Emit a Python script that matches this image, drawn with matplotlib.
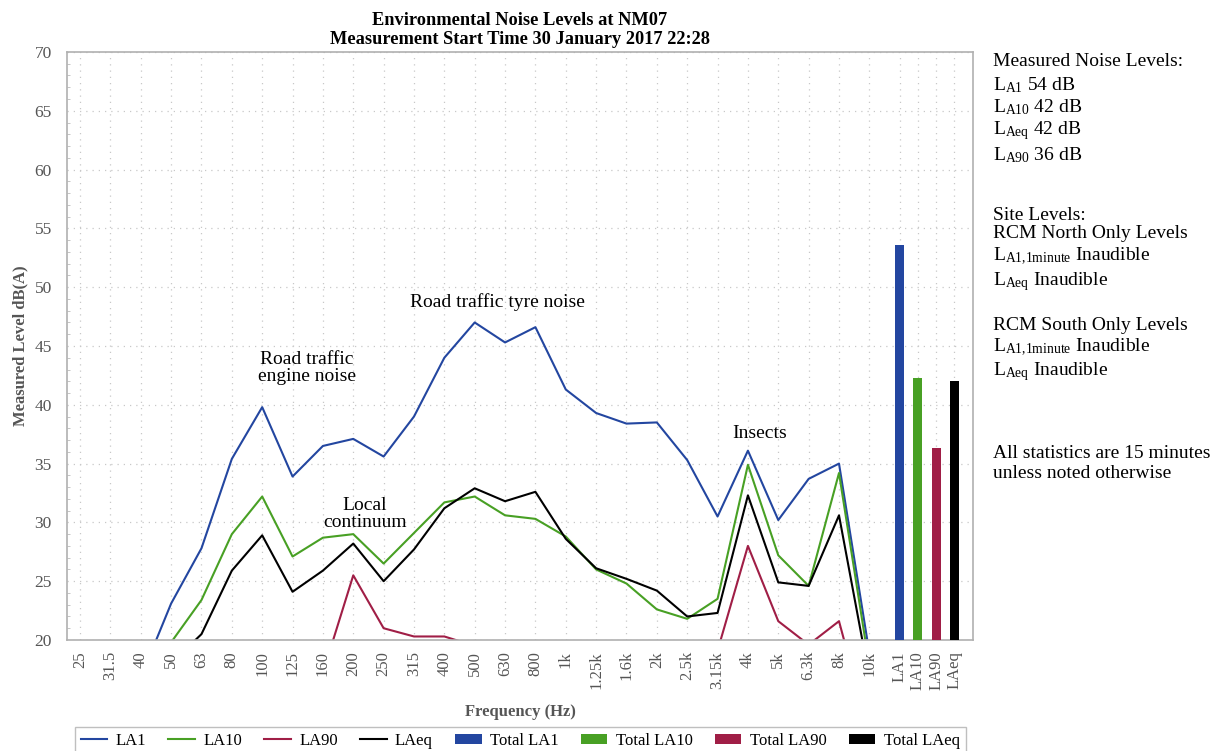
import numpy as np
import matplotlib
matplotlib.use("Agg")
import matplotlib.pyplot as plt
from matplotlib.ticker import MultipleLocator

plt.rcParams['font.family'] = ['Liberation Serif', 'DejaVu Serif']
plt.rcParams['mathtext.fontset'] = 'custom'
plt.rcParams['mathtext.rm'] = 'Liberation Serif'
plt.rcParams['mathtext.it'] = 'Liberation Serif:italic'

# third-octave bands
bands = ['25', '31.5', '40', '50', '63', '80', '100', '125', '160', '200', '250', '315',
         '400', '500', '630', '800', '1k', '1.25k', '1.6k', '2k', '2.5k', '3.15k', '4k',
         '5k', '6.3k', '8k', '10k']

la1 = [11.0, 13.0, 16.8, 23.1, 27.8, 35.4, 39.8, 33.9, 36.5, 37.1, 35.6, 39.0,
       44.0, 47.0, 45.3, 46.6, 41.3, 39.3, 38.4, 38.5, 35.3, 30.5, 36.1,
       30.2, 33.7, 35.0, 18.9]
la10 = [9.0, 11.0, 15.0, 19.8, 23.4, 29.0, 32.2, 27.1, 28.7, 29.0, 26.5, 29.1,
        31.7, 32.2, 30.6, 30.3, 28.8, 26.0, 24.8, 22.6, 21.8, 23.5, 34.9,
        27.2, 24.6, 34.2, 17.8]
la90 = [5.0, 7.0, 9.0, 11.0, 12.5, 14.0, 15.0, 14.5, 17.2, 25.5, 21.0, 20.3,
        20.3, 19.5, 18.5, 17.5, 17.0, 16.5, 16.0, 16.0, 16.5, 19.1, 28.0,
        21.6, 19.6, 21.6, 12.0]
laeq = [8.0, 10.0, 13.0, 18.0, 20.5, 25.9, 28.9, 24.1, 25.9, 28.2, 25.0, 27.7,
        31.2, 32.9, 31.8, 32.6, 28.6, 26.1, 25.2, 24.2, 22.0, 22.3, 32.3,
        24.9, 24.6, 30.6, 16.8]

total_names = ['LA1', 'LA10', 'LA90', 'LAeq']
total_values = [53.6, 42.3, 36.3, 42.0]

c_blue = '#2346a0'
c_green = '#48a024'
c_red = '#a01e46'
c_black = '#000000'
bar_colors = [c_blue, c_green, c_red, c_black]

fig = plt.figure(figsize=(12.18, 7.51), dpi=100)
ax = fig.add_axes([0.055, 0.1478, 0.744, 0.783])

x = np.arange(len(bands))
ax.plot(x, la1, color=c_blue, lw=1.5, label='LA1')
ax.plot(x, la10, color=c_green, lw=1.5, label='LA10')
ax.plot(x, la90, color=c_red, lw=1.5, label='LA90')
ax.plot(x, laeq, color=c_black, lw=1.5, label='LAeq')

xb = len(bands) + np.arange(len(total_names)) * 0.6
for i in range(len(total_names)):
    ax.bar(xb[i], total_values[i], bottom=0, width=0.3, color=bar_colors[i],
           label='Total ' + total_names[i], zorder=3)

ax.set_xlim(-0.43, 29.42)
ax.set_ylim(20, 70)
ax.set_xticks(list(x) + list(xb))
ax.set_xticklabels(bands + total_names, rotation=90, fontsize=12, color='#555555')
ax.yaxis.set_major_locator(MultipleLocator(5))
ax.yaxis.set_minor_locator(MultipleLocator(1))
ax.tick_params(axis='y', labelsize=12.5, labelcolor='#555555', length=0, pad=11)
ax.tick_params(axis='x', length=0, pad=8)
ax.tick_params(axis='y', which='minor', length=2, direction='in', color='#bbbbbb')
ax.grid(True, which='major', linestyle=(0, (1, 4)), color='#c8c8c8', lw=0.9)
ax.set_axisbelow(True)
for s in ax.spines.values():
    s.set_color('#b0b0b0')
    s.set_linewidth(1.2)

ax.set_ylabel('Measured Level dB(A)', fontsize=12, fontweight='bold', color='#555555', labelpad=4)
ax.set_xlabel('Frequency (Hz)', fontsize=12, fontweight='bold', color='#555555', labelpad=10)
ax.set_title('Environmental Noise Levels at NM07\nMeasurement Start Time 30 January 2017 22:28',
             fontsize=13.2, fontweight='bold', linespacing=1.1, pad=6)

ax.text(7.48, 43.1, 'Road traffic\nengine noise', fontsize=14, ha='center', va='center', linespacing=1.0)
ax.text(9.39, 30.7, 'Local\ncontinuum', fontsize=14, ha='center', va='center', linespacing=1.0)
ax.text(13.74, 48.7, 'Road traffic tyre noise', fontsize=14, ha='center', va='center')
ax.text(22.4, 37.6, 'Insects', fontsize=14, ha='center', va='center')

side = [
    (61, 'Measured Noise Levels:'),
    (85, r'L$_{\mathrm{A1}}$ 54 dB'),
    (107, r'L$_{\mathrm{A10}}$ 42 dB'),
    (131, r'L$_{\mathrm{Aeq}}$ 42 dB'),
    (155, r'L$_{\mathrm{A90}}$ 36 dB'),
    (215, 'Site Levels:'),
    (234, 'RCM North Only Levels'),
    (256, r'L$_{\mathrm{A1{,}1minute}}$ Inaudible'),
    (282, r'L$_{\mathrm{Aeq}}$ Inaudible'),
    (325, 'RCM South Only Levels'),
    (347, r'L$_{\mathrm{A1{,}1minute}}$ Inaudible'),
    (372, r'L$_{\mathrm{Aeq}}$ Inaudible'),
    (454, 'All statistics are 15 minutes'),
    (473, 'unless noted otherwise'),
]
for ypx, txt in side:
    fig.text(993 / 1218, 1 - ypx / 751, txt, fontsize=14, ha='left', va='center')

leg = fig.legend(loc='upper center', bbox_to_anchor=(0.427, 0.032), ncol=8, fontsize=12,
                 frameon=True, fancybox=False, edgecolor='#b0b0b0', handlelength=1.6,
                 handleheight=0.55, handletextpad=0.5, columnspacing=1.33, borderpad=0.35,
                 borderaxespad=0)
leg.get_frame().set_linewidth(1.0)

fig.savefig('out.png', dpi=100)
